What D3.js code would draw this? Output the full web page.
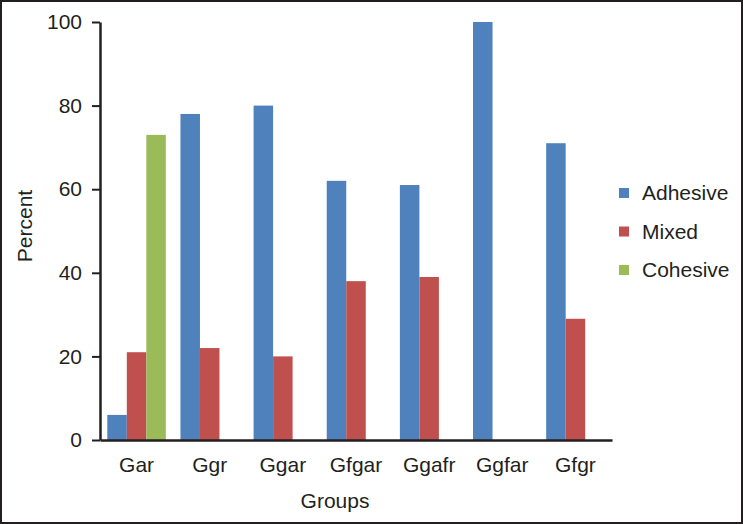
<!DOCTYPE html>
<html><head><meta charset="utf-8">
<script src="https://cdn.jsdelivr.net/npm/d3@7"></script>
<style>body{margin:0;background:#fff}svg{display:block}text{font-family:"Liberation Sans",Arial,sans-serif;fill:#231f20}</style>
</head><body>
<svg id="c" width="743" height="524"></svg>
<script>
const categories = ["Gar","Ggr","Ggar","Gfgar","Ggafr","Ggfar","Gfgr"];
const seriesNames = ["Adhesive","Mixed","Cohesive"];
const adhesive = [6,78,80,62,61,100,71];
const mixed = [21,22,20,38,39,0,29];
const cohesive = [73,0,0,0,0,0,0];
const yTicks = [0,20,40,60,80,100];
const colors = ["#4F81BD","#C0504D","#9BBB59"];

const series = [adhesive, mixed, cohesive];
const svg = d3.select("#c");
svg.append("rect").attr("x",1).attr("y",1).attr("width",741).attr("height",522)
  .attr("fill","#fff").attr("stroke","#231f20").attr("stroke-width",2);

const L=100, R=612, T=22, B=440;
const FS="21px";
const x = d3.scaleBand().domain(categories).range([L,R]).paddingInner(0.2).paddingOuter(0.1);
const xs = d3.scaleBand().domain(seriesNames).range([0,x.bandwidth()]);
const y = d3.scaleLinear().domain([0,100]).range([B,T]);

const g = svg.append("g");
categories.forEach((c,i)=>{
  seriesNames.forEach((s,j)=>{
    const v = series[j][i];
    if(v<=0) return;
    g.append("rect").attr("x",x(c)+xs(s)).attr("y",y(v))
      .attr("width",xs.bandwidth()).attr("height",y(0)-y(v)).attr("fill",colors[j]);
  });
});

const ya = svg.append("g").attr("transform",`translate(${L},0)`)
  .call(d3.axisLeft(y).tickValues(yTicks).tickSize(8).tickPadding(10).tickSizeOuter(0));
ya.select(".domain").attr("stroke","#231f20").attr("stroke-width",2.5);
ya.selectAll(".tick line").attr("stroke","#231f20").attr("stroke-width",2);
ya.selectAll("text").style("font-size",FS).attr("fill","#231f20");

const xa = svg.append("g").attr("transform",`translate(0,${B})`)
  .call(d3.axisBottom(x).tickSize(0).tickPadding(17).tickSizeOuter(0));
xa.select(".domain").attr("stroke","#231f20").attr("stroke-width",2.5);
xa.selectAll("text").style("font-size",FS).attr("fill","#231f20");

svg.append("text").attr("x",335).attr("y",508).attr("text-anchor","middle")
  .style("font-size",FS).text("Groups");
svg.append("text").attr("transform","translate(32,226) rotate(-90)").attr("text-anchor","middle")
  .style("font-size",FS).text("Percent");

const lg = svg.append("g");
seriesNames.forEach((s,j)=>{
  const yy = 188 + j*38.5;
  lg.append("rect").attr("x",619).attr("y",yy).attr("width",10).attr("height",10).attr("fill",colors[j]);
  lg.append("text").attr("x",642).attr("y",yy+12).style("font-size",FS).text(s);
});
</script>
</body></html>
